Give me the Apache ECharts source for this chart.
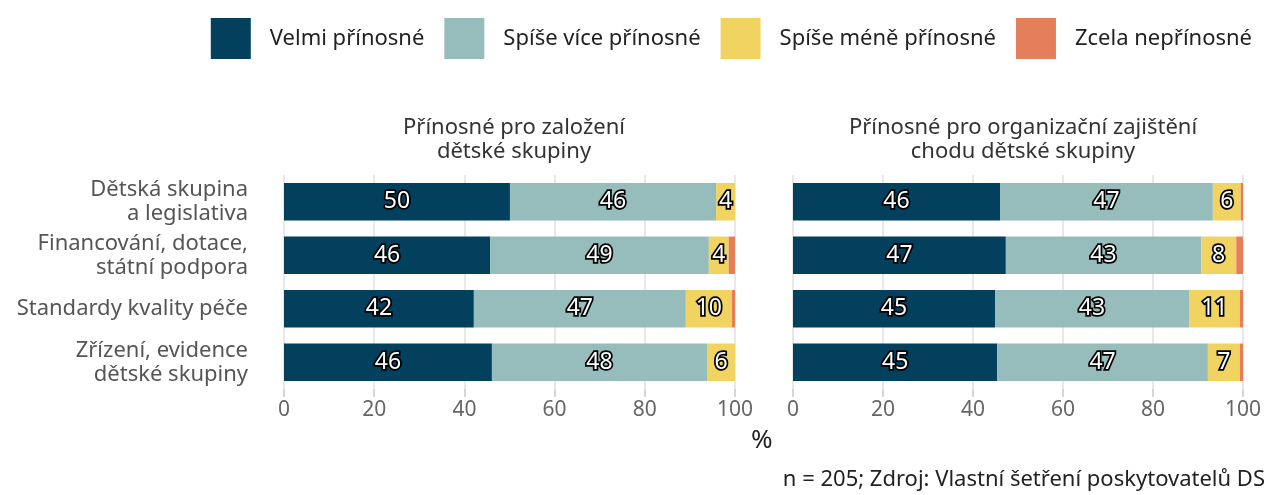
<!DOCTYPE html>
<html>
<head>
<meta charset="utf-8">
<script src="https://cdn.jsdelivr.net/npm/echarts@6/dist/echarts.min.js"></script>
<style>
  html, body { margin: 0; padding: 0; background: #fff; }
  #chart { width: 1267px; height: 495px; }
</style>
</head>
<body>
<div id="chart"></div>
<script>
// kategorie (shora dolů)
const categories = [
  'Dětská skupina\na legislativa',
  'Financování, dotace,\nstátní podpora',
  'Standardy kvality péče',
  'Zřízení, evidence\ndětské skupiny',
];
const seriesNames = ['Velmi přínosné', 'Spíše více přínosné', 'Spíše méně přínosné', 'Zcela nepřínosné'];
const colors = ['#03405e', '#96bdbb', '#f1d362', '#e57f5b'];

// Přínosné pro založení dětské skupiny
const zalVelmi = [50.1, 45.7, 42.1, 46.1];
const zalVice = [45.7, 48.5, 47.0, 47.7];
const zalMene = [4.2, 4.4, 10.2, 6.2];
const zalNe = [0, 1.4, 0.7, 0];

// Přínosné pro organizační zajištění chodu dětské skupiny
const orgVelmi = [46.0, 47.3, 44.9, 45.4];
const orgVice = [47.3, 43.4, 43.1, 46.8];
const orgMene = [6.2, 7.8, 11.3, 7.1];
const orgNe = [0.5, 1.5, 0.7, 0.7];

const xTicks = [0, 20, 40, 60, 80, 100];

const font = 'Noto Sans';
const chart = echarts.init(document.getElementById('chart'));

function makeSeries(data, idx, axisIdx) {
  return {
    name: seriesNames[idx],
    type: 'bar',
    stack: 'panel' + axisIdx,
    xAxisIndex: axisIdx,
    yAxisIndex: axisIdx,
    barWidth: '70%',
    itemStyle: { color: colors[idx] },
    label: {
      show: idx < 3,
      position: 'inside',
      fontFamily: font,
      fontSize: 23,
      color: '#fff',
      textBorderColor: '#000',
      textBorderWidth: 3.5,
      formatter: (p) => Math.round(p.value),
    },
    data: data,
  };
}

function xAxis(gridIndex) {
  return {
    type: 'value',
    gridIndex: gridIndex,
    min: xTicks[0],
    max: xTicks[xTicks.length - 1],
    interval: 20,
    axisLine: { show: false },
    axisTick: { show: true, length: 8, lineStyle: { color: '#c8c8c8', width: 1.5 } },
    splitLine: { show: true, lineStyle: { color: '#e0e0e0', width: 1.5 } },
    axisLabel: { color: '#666', fontFamily: font, fontSize: 21, margin: 11 },
  };
}

function yAxis(gridIndex, showLabels) {
  return {
    type: 'category',
    gridIndex: gridIndex,
    inverse: true,
    data: categories,
    axisLine: { show: false },
    axisTick: { show: false },
    axisLabel: {
      show: showLabels,
      color: '#555',
      fontFamily: font,
      fontSize: 22,
      lineHeight: 24,
      align: 'right',
      margin: 36,
    },
  };
}

chart.setOption({
  animation: false,
  color: colors,
  textStyle: { fontFamily: font },
  title: [
    {
      text: 'Přínosné pro založení\ndětské skupiny',
      left: 509, top: 111, textAlign: 'center',
      textStyle: { fontFamily: font, fontSize: 22, fontWeight: 'normal', color: '#333', lineHeight: 24 },
    },
    {
      text: 'Přínosné pro organizační zajištění\nchodu dětské skupiny',
      left: 1018, top: 111, textAlign: 'center',
      textStyle: { fontFamily: font, fontSize: 22, fontWeight: 'normal', color: '#333', lineHeight: 24 },
    },
  ],
  legend: {
    data: seriesNames,
    top: 13,
    right: 10,
    itemWidth: 40,
    itemHeight: 41,
    itemGap: 20,
    icon: 'rect',
    textStyle: { fontFamily: font, fontSize: 22, color: '#222', padding: [0, 0, 0, 14] },
  },
  grid: [
    { left: 284, width: 451, top: 175, height: 214 },
    { left: 793, width: 450, top: 175, height: 214 },
  ],
  xAxis: [xAxis(0), xAxis(1)],
  yAxis: [yAxis(0, true), yAxis(1, false)],
  series: [
    makeSeries(zalVelmi, 0, 0),
    makeSeries(zalVice, 1, 0),
    makeSeries(zalMene, 2, 0),
    makeSeries(zalNe, 3, 0),
    makeSeries(orgVelmi, 0, 1),
    makeSeries(orgVice, 1, 1),
    makeSeries(orgMene, 2, 1),
    makeSeries(orgNe, 3, 1),
  ],
  graphic: [
    {
      type: 'text', left: 751, top: 428,
      style: { text: '%', fontFamily: font, fontSize: 26, fill: '#222' },
    },
    {
      type: 'text', right: 2, top: 469,
      style: { text: 'n = 205; Zdroj: Vlastní šetření poskytovatelů DS', fontFamily: font, fontSize: 22, fill: '#222' },
    },
  ],
});
</script>
</body>
</html>
